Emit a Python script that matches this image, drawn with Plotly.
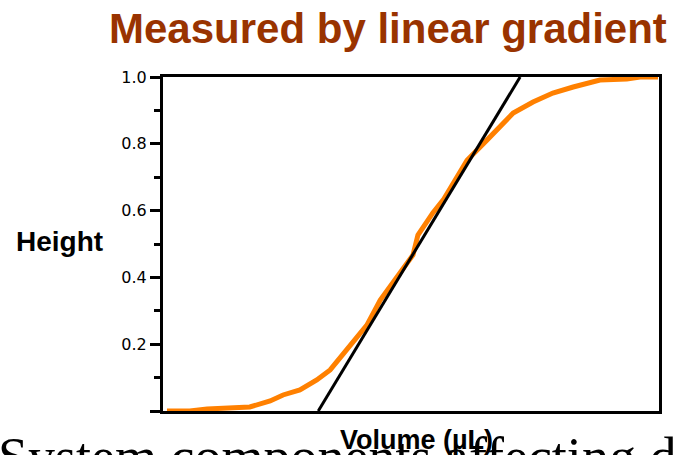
import plotly.graph_objects as go

# Measured step profile (normalised height vs. delivered volume, volume axis 0-100)
volume = [0.8, 5.4, 8.9, 13.5, 17.5, 21.6, 24.2, 27.6, 31.0, 33.7, 37.7, 41.1,
          43.8, 47.8, 50.4, 51.4, 54.4, 56.5, 61.3, 65.3, 70.6, 74.6, 78.6,
          82.7, 88.1, 93.5, 96.2, 99.8]
height = [0.0, 0.0, 0.006, 0.009, 0.012, 0.03, 0.048, 0.063, 0.093, 0.123,
          0.198, 0.257, 0.332, 0.413, 0.467, 0.527, 0.593, 0.632, 0.751, 0.811,
          0.892, 0.925, 0.952, 0.970, 0.991, 0.994, 1.0, 1.0]

# Linear-gradient tangent through the mid-point of the step
tangent_x = [31.3, 72.0]
tangent_y = [0.0, 1.0]

ytick_vals = [0.0, 0.2, 0.4, 0.6, 0.8, 1.0]
ytick_text = ["", "0.2", "0.4", "0.6", "0.8", "1.0"]

fig = go.Figure()
fig.add_trace(go.Scatter(x=volume, y=height, mode="lines",
                         line=dict(color="#FF8000", width=5),
                         showlegend=False, hoverinfo="skip"))
fig.add_trace(go.Scatter(x=tangent_x, y=tangent_y, mode="lines",
                         line=dict(color="black", width=3),
                         showlegend=False, hoverinfo="skip"))

fig.update_layout(
    width=677, height=455,
    margin=dict(l=163, r=18, t=77, b=44),
    paper_bgcolor="white", plot_bgcolor="white",
    xaxis=dict(range=[0, 100], showgrid=False, zeroline=False,
               showticklabels=False, ticks="",
               showline=True, linecolor="black", linewidth=3, mirror=True,
               layer="below traces"),
    yaxis=dict(range=[0, 1.0], showgrid=False, zeroline=False,
               tickvals=ytick_vals, ticktext=ytick_text,
               ticks="outside", ticklen=10, tickwidth=3, tickcolor="black",
               minor=dict(dtick=0.1, ticks="outside", ticklen=6,
                          tickwidth=3, tickcolor="black"),
               tickfont=dict(family="DejaVu Sans", size=16, color="black"),
               showline=True, linecolor="black", linewidth=3, mirror=True,
               layer="below traces"),
    annotations=[
        dict(text="<b>Measured by linear gradient</b>", xref="paper", yref="paper",
             x=1.0, y=1.0, xanchor="right", yanchor="bottom", xshift=10, yshift=23,
             showarrow=False,
             font=dict(family="Liberation Sans", size=42, color="#993300")),
        dict(text="<b>Height</b>", xref="paper", yref="paper",
             x=0, y=0.5, xanchor="right", yanchor="middle", xshift=-58, yshift=3,
             showarrow=False,
             font=dict(family="Liberation Sans", size=28, color="black")),
        dict(text="System components affecting d", xref="paper", yref="paper",
             x=0, y=0, xanchor="left", yanchor="top", xshift=-167, yshift=-14,
             showarrow=False,
             font=dict(family="Liberation Serif", size=54, color="black")),
        dict(text="<b>Volume (µL)</b>", xref="paper", yref="paper",
             x=0.5, y=0, xanchor="center", yanchor="top", xshift=5, yshift=-12,
             showarrow=False,
             font=dict(family="Liberation Sans", size=27, color="black")),
    ],
)

fig.write_html("out.html")
